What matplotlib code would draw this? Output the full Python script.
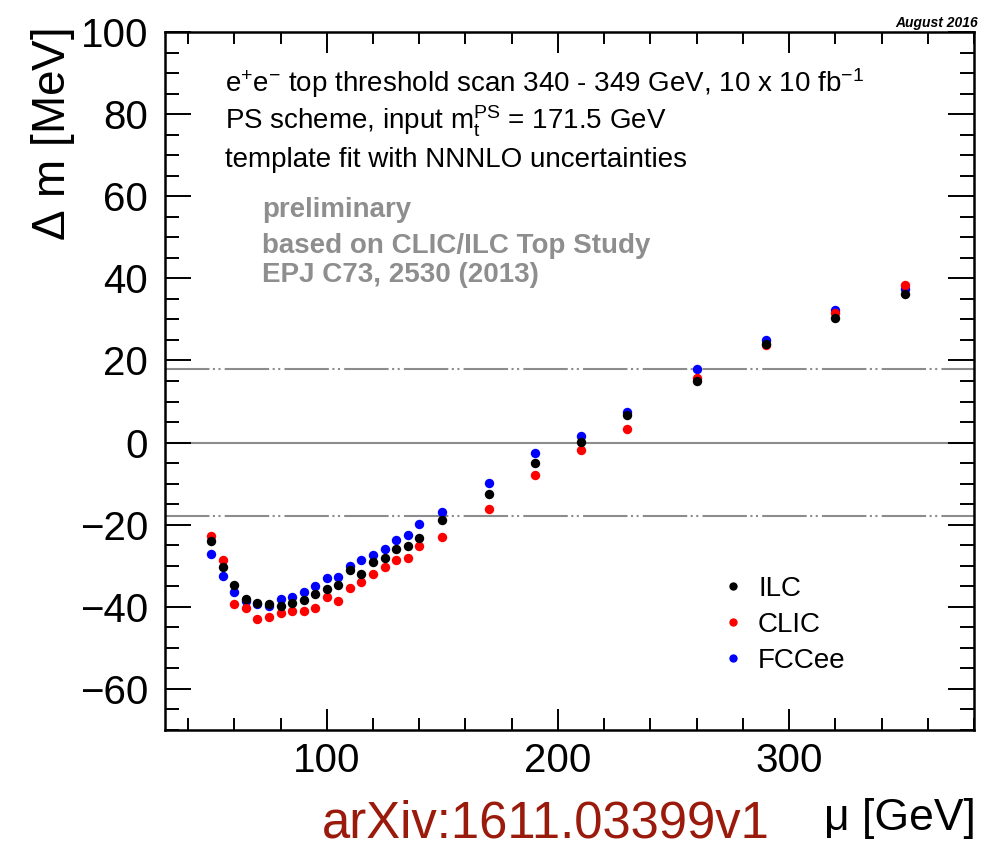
import numpy as np
import matplotlib
matplotlib.use('Agg')
import matplotlib.pyplot as plt
from matplotlib.lines import Line2D

plt.rcParams['font.family'] = ['Liberation Sans', 'DejaVu Sans']
plt.rcParams['mathtext.default'] = 'regular'
plt.rcParams['lines.scale_dashes'] = False

# scale mu [GeV]
mu = [50, 55, 60, 65, 70, 75, 80, 85, 90, 95, 100, 105, 110, 115, 120,
      125, 130, 135, 140, 150, 170, 190, 210, 230, 260, 290, 320, 350]

# Delta m [MeV]
dm_ilc = [-23.9, -30.3, -34.7, -38.1, -39.0, -39.3, -39.9, -39.0, -38.3, -36.8,
          -35.7, -34.7, -31.0, -32.0, -29.0, -28.0, -25.8, -25.3, -23.2, -18.8,
          -12.4, -5.0, 0.1, 6.8, 15.1, 24.1, 30.4, 36.3]
dm_clic = [-22.7, -28.5, -39.3, -40.4, -43.0, -42.4, -41.5, -41.1, -41.0, -40.3,
           -37.6, -38.7, -35.5, -33.9, -32.1, -30.3, -28.5, -28.0, -25.1, -23.0,
           -16.2, -8.0, -1.7, 3.4, 15.8, 23.7, 31.6, 38.5]
dm_fccee = [-27.1, -32.6, -36.3, -38.5, -39.4, -39.8, -38.0, -37.6, -36.3, -35.0,
            -33.1, -32.8, -30.0, -28.5, -27.4, -25.9, -23.7, -22.4, -19.9, -16.8,
            -9.8, -2.5, 1.7, 7.4, 18.0, 25.1, 32.2, 37.3]

band = 18  # +- MeV reference lines

W, H = 1006, 848
fig = plt.figure(figsize=(W / 100, H / 100), dpi=100)
ax = fig.add_axes([165 / W, 1 - 730 / H, (974 - 165) / W, (730 - 32) / H])

ax.axhline(0, color='#8c8c8c', lw=1.5, zorder=1)
for yv in (band, -band):
    ax.axhline(yv, color='#8c8c8c', lw=1.5, zorder=1,
               linestyle=(0, (32, 2.5, 1.5, 2.5, 1.5, 3)))

# FCCee, CLIC, ILC -- ILC on top
ax.scatter(mu, dm_fccee, s=46, color='#0000ff', lw=0, zorder=3)
ax.scatter(mu, dm_clic, s=46, color='#ff0000', lw=0, zorder=4)
ax.scatter(mu, dm_ilc, s=46, color='black', lw=0, zorder=5)

ax.set_xlim(30, 380)
ax.set_ylim(-70, 100)
ax.set_xticks([100, 200, 300])
ax.set_xticks(np.arange(40, 381, 20), minor=True)
ax.set_yticks(np.arange(-60, 101, 20))
ax.set_yticks(np.arange(-70, 101, 5), minor=True)

for s in ax.spines.values():
    s.set_linewidth(1.8)
ax.tick_params(axis='both', which='both', direction='in', top=True, right=True,
               width=1.4, labelsize=29)
ax.tick_params(axis='y', which='major', length=19, pad=12)
ax.tick_params(axis='y', which='minor', length=10)
ax.tick_params(axis='x', which='major', length=15, pad=9)
ax.tick_params(axis='x', which='minor', length=8.5)

# info text
tr = ax.transAxes
ax.text(0.074, 0.9145, 'e$^{+}$e$^{-}$ top threshold scan 340 - 349 GeV, 10 x 10 fb$^{-1}$',
        transform=tr, fontsize=20, va='baseline')
ax.text(0.074, 0.8596, 'PS scheme, input m$_{t}^{PS}$ = 171.5 GeV',
        transform=tr, fontsize=20, va='baseline')
ax.text(0.074, 0.807, 'template fit with NNNLO uncertainties',
        transform=tr, fontsize=20, va='baseline')
gray = '#8e8e8e'
ax.text(0.12, 0.7354, 'preliminary', transform=tr, fontsize=20,
        color=gray, weight='bold', va='baseline')
ax.text(0.12, 0.6834, 'based on CLIC/ILC Top Study', transform=tr, fontsize=20,
        color=gray, weight='bold', va='baseline')
ax.text(0.12, 0.6423, 'EPJ C73, 2530 (2013)', transform=tr, fontsize=20,
        color=gray, weight='bold', va='baseline')

handles = [Line2D([], [], ls='none', marker='o', ms=6, mec='none', color=c)
           for c in ('black', '#ff0000', '#0000ff')]
ax.legend(handles, ['ILC', 'CLIC', 'FCCee'], loc='upper left',
          bbox_to_anchor=((722 - 165) / 809, (730 - 576) / 698),
          frameon=False, fontsize=20, handlelength=0.8, handletextpad=0.5,
          labelspacing=0.36, borderpad=0, borderaxespad=0)

fig.text(53 / W, 1 - 28 / H, '$\\Delta$ m [MeV]', rotation=90, fontsize=33,
         ha='center', va='top')
fig.text(976 / W, 1 - 830 / H, '\u03bc [GeV]', fontsize=32, ha='right', va='baseline')
fig.text(978 / W, 1 - 27 / H, 'August 2016', fontsize=10, style='italic',
         weight='bold', ha='right', va='baseline')
fig.text(322 / W, 0.0, 'arXiv:1611.03399v1', fontsize=36.5, color='#9a1a0c',
         ha='left', va='bottom')

fig.savefig('out.png', dpi=100)
